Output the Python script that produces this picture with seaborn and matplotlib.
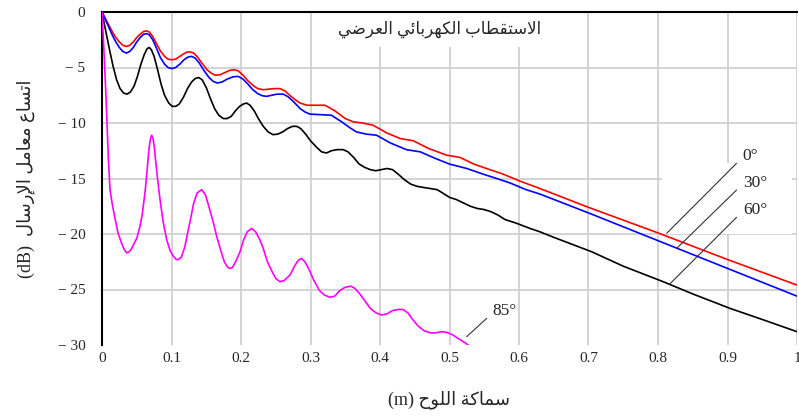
import pandas as pd
import matplotlib
matplotlib.use('Agg')
import matplotlib.pyplot as plt
import seaborn as sns
from matplotlib.patches import Rectangle

sns.set_style('white')
plt.rcParams['font.family'] = ['Liberation Serif', 'DejaVu Sans']
plt.rcParams['axes.unicode_minus'] = True

# 아랍어 글자 모양 (고립, 끝, 처음, 중간) - matplotlib 은 아랍어 연결을 하지 않음
FORMS = {
    'ا': ('\uFE8D', '\uFE8E', None, None),
    'إ': ('\uFE87', '\uFE88', None, None),
    'ب': ('\uFE8F', '\uFE90', '\uFE91', '\uFE92'),
    'ة': ('\uFE93', '\uFE94', None, None),
    'ت': ('\uFE95', '\uFE96', '\uFE97', '\uFE98'),
    'ح': ('\uFEA1', '\uFEA2', '\uFEA3', '\uFEA4'),
    'ر': ('\uFEAD', '\uFEAE', None, None),
    'س': ('\uFEB1', '\uFEB2', '\uFEB3', '\uFEB4'),
    'ض': ('\uFEBD', '\uFEBE', '\uFEBF', '\uFEC0'),
    'ط': ('\uFEC1', '\uFEC2', '\uFEC3', '\uFEC4'),
    'ع': ('\uFEC9', '\uFECA', '\uFECB', '\uFECC'),
    'ق': ('\uFED5', '\uFED6', '\uFED7', '\uFED8'),
    'ك': ('\uFED9', '\uFEDA', '\uFEDB', '\uFEDC'),
    'ل': ('\uFEDD', '\uFEDE', '\uFEDF', '\uFEE0'),
    'م': ('\uFEE1', '\uFEE2', '\uFEE3', '\uFEE4'),
    'ه': ('\uFEE9', '\uFEEA', '\uFEEB', '\uFEEC'),
    'و': ('\uFEED', '\uFEEE', None, None),
    'ي': ('\uFEF1', '\uFEF2', '\uFEF3', '\uFEF4'),
    'ئ': ('\uFE89', '\uFE8A', '\uFE8B', '\uFE8C'),
    'لا': ('\uFEFB', '\uFEFC', None, None),
    'لإ': ('\uFEF9', '\uFEFA', None, None),
}


def shape(s):
    chars = []
    i = 0
    while i < len(s):
        if s[i] == 'ل' and i + 1 < len(s) and s[i + 1] in 'اإ':
            chars.append(s[i:i + 2])
            i += 2
        else:
            chars.append(s[i])
            i += 1
    out = []
    for k, c in enumerate(chars):
        if c not in FORMS:
            out.append(c)
            continue
        iso, fin, ini, med = FORMS[c]
        prev = chars[k - 1] if k > 0 else None
        nxt = chars[k + 1] if k + 1 < len(chars) else None
        jp = prev in FORMS and FORMS[prev][2] is not None
        jn = ini is not None and nxt in FORMS
        if jp and jn:
            out.append(med)
        elif jp:
            out.append(fin)
        elif jn:
            out.append(ini)
        else:
            out.append(iso)
    return ''.join(out)


def rtl(s):
    return shape(s)[::-1]


# 곡선 데이터
x_0 = [0, 0.005, 0.01, 0.015, 0.02, 0.025, 0.03, 0.035, 0.04, 0.045, 0.05, 0.055, 0.06, 0.064,
       0.068, 0.073, 0.078, 0.084, 0.09, 0.095, 0.1, 0.106, 0.112, 0.118, 0.123, 0.127, 0.132,
       0.138, 0.145, 0.151, 0.157, 0.163, 0.17, 0.177, 0.184, 0.19, 0.196, 0.203, 0.21, 0.217,
       0.224, 0.232, 0.24, 0.248, 0.256, 0.263, 0.27, 0.278, 0.285, 0.295, 0.31, 0.321, 0.335,
       0.35, 0.362, 0.375, 0.39, 0.41, 0.429, 0.448, 0.47, 0.496, 0.515, 0.535, 0.558, 0.577,
       0.6, 0.63, 0.7, 0.8, 0.9, 1.0]
y_0 = [0, -0.6, -1.2, -1.8, -2.3, -2.7, -3.0, -3.1, -3.0, -2.7, -2.3, -2.0, -1.75, -1.7,
       -1.8, -2.2, -2.8, -3.5, -4.0, -4.25, -4.3, -4.25, -4.0, -3.75, -3.6, -3.6, -3.7,
       -4.1, -4.7, -5.2, -5.5, -5.7, -5.65, -5.45, -5.25, -5.2, -5.3, -5.7, -6.2, -6.6,
       -6.9, -7.0, -6.95, -6.9, -6.9, -7.1, -7.5, -7.9, -8.2, -8.4, -8.4, -8.4, -8.9,
       -9.6, -9.9, -10.0, -10.2, -10.9, -11.4, -11.6, -12.3, -12.9, -13.1, -13.7, -14.2, -14.6,
       -15.2, -15.9, -17.6, -19.9, -22.3, -24.6]

x_30 = [0, 0.005, 0.01, 0.015, 0.02, 0.025, 0.03, 0.035, 0.04, 0.045, 0.05, 0.055, 0.06, 0.064,
        0.068, 0.073, 0.078, 0.084, 0.09, 0.095, 0.1, 0.106, 0.112, 0.118, 0.124, 0.129, 0.134,
        0.14, 0.147, 0.154, 0.16, 0.166, 0.173, 0.18, 0.188, 0.196, 0.203, 0.21, 0.217, 0.224,
        0.231, 0.237, 0.244, 0.252, 0.261, 0.268, 0.276, 0.285, 0.292, 0.299, 0.315, 0.33,
        0.345, 0.356, 0.366, 0.38, 0.395, 0.415, 0.438, 0.458, 0.48, 0.5, 0.525, 0.548, 0.568,
        0.587, 0.61, 0.63, 0.7, 0.8, 0.9, 1.0]
y_30 = [0, -0.7, -1.4, -2.1, -2.7, -3.2, -3.55, -3.7, -3.55, -3.2, -2.7, -2.3, -2.0, -1.95,
        -2.05, -2.5, -3.2, -4.1, -4.7, -5.0, -5.1, -5.0, -4.7, -4.3, -4.05, -4.0, -4.15,
        -4.6, -5.3, -5.9, -6.25, -6.4, -6.3, -6.05, -5.85, -5.8, -6.05, -6.5, -7.0, -7.35,
        -7.55, -7.6, -7.5, -7.4, -7.4, -7.65, -8.1, -8.7, -9.0, -9.2, -9.25, -9.3,
        -9.9, -10.4, -10.8, -11.0, -11.1, -11.8, -12.4, -12.6, -13.2, -13.7, -14.1, -14.6, -15.0,
        -15.4, -16.0, -16.4, -18.1, -20.6, -23.1, -25.6]

x_60 = [0, 0.005, 0.0115, 0.016, 0.021, 0.026, 0.031, 0.036, 0.041, 0.046, 0.051, 0.056, 0.061,
        0.065, 0.068, 0.071, 0.075, 0.08, 0.085, 0.09, 0.096, 0.101, 0.106, 0.111, 0.117, 0.123,
        0.129, 0.134, 0.139, 0.144, 0.15, 0.156, 0.162, 0.168, 0.1745, 0.18, 0.186, 0.192, 0.198,
        0.203, 0.208, 0.213, 0.219, 0.225, 0.232, 0.239, 0.246, 0.253, 0.26, 0.267, 0.274, 0.28,
        0.286, 0.293, 0.3, 0.309, 0.316, 0.323, 0.33, 0.338, 0.347, 0.354, 0.362, 0.37, 0.378,
        0.386, 0.394, 0.402, 0.41, 0.418, 0.426, 0.435, 0.444, 0.453, 0.462, 0.472, 0.482, 0.49,
        0.5, 0.51, 0.52, 0.53, 0.54, 0.55, 0.56, 0.57, 0.58, 0.595, 0.616, 0.63, 0.65, 0.7046,
        0.75, 0.8076, 0.85, 0.9036, 0.95, 1.0]
y_60 = [0, -1.6, -3.6, -4.9, -6.1, -6.9, -7.3, -7.4, -7.2, -6.7, -5.8, -4.7, -3.8,
        -3.3, -3.2, -3.4, -4.0, -5.2, -6.5, -7.5, -8.2, -8.5, -8.5, -8.3, -7.7, -6.9,
        -6.3, -6.0, -5.9, -6.1, -6.8, -7.8, -8.7, -9.3, -9.6, -9.6, -9.4, -8.9, -8.5,
        -8.3, -8.2, -8.4, -8.9, -9.6, -10.3, -10.8, -11.05, -11.0, -10.8, -10.5, -10.3, -10.3,
        -10.5, -11.0, -11.6, -12.2, -12.6, -12.7, -12.5, -12.4, -12.4, -12.6, -13.1, -13.7, -14.0,
        -14.2, -14.3, -14.2, -14.1, -14.2, -14.6, -15.1, -15.5, -15.7, -15.8, -15.9, -16.0, -16.3,
        -16.7, -16.9, -17.2, -17.5, -17.7, -17.8, -18.0, -18.3, -18.7, -19.0, -19.5, -19.8, -20.3, -21.6,
        -22.9, -24.3, -25.4, -26.7, -27.7, -28.8]

x_85 = [0, 0.002, 0.006, 0.009, 0.0115, 0.015, 0.0187, 0.023, 0.028, 0.032, 0.0355, 0.039, 0.042,
        0.045, 0.05, 0.0547, 0.058, 0.062, 0.065, 0.0675, 0.0695, 0.0715, 0.0735, 0.0755, 0.078,
        0.081, 0.0835, 0.088, 0.093, 0.098, 0.1026, 0.107, 0.11, 0.114, 0.119, 0.1266, 0.132,
        0.137, 0.1435, 0.149, 0.155, 0.16, 0.165, 0.17, 0.176, 0.181, 0.184, 0.188, 0.193,
        0.1986, 0.204, 0.209, 0.2154, 0.221, 0.227, 0.232, 0.238, 0.244, 0.25, 0.256, 0.262,
        0.2705, 0.277, 0.282, 0.287, 0.292, 0.298, 0.305, 0.313, 0.32, 0.328, 0.335, 0.342,
        0.35, 0.358, 0.364, 0.371, 0.378, 0.386, 0.394, 0.402, 0.41, 0.418, 0.426, 0.433,
        0.44, 0.447, 0.455, 0.463, 0.472, 0.48, 0.49, 0.498, 0.505, 0.512, 0.52, 0.527]
y_85 = [0, -2.4, -8.0, -13.0, -16.0, -17.4, -18.6, -19.9, -20.8, -21.4, -21.7, -21.6, -21.4,
        -21.0, -20.4, -19.3, -18.2, -16.2, -14.2, -12.4, -11.5, -11.1, -11.4, -12.3, -13.9,
        -15.6, -16.9, -18.9, -20.5, -21.5, -22.0, -22.3, -22.3, -22.1, -21.2, -18.9, -17.2,
        -16.3, -16.0, -16.5, -17.8, -18.9, -20.2, -21.3, -22.5, -23.0, -23.1, -23.0, -22.4,
        -21.6, -20.5, -19.8, -19.5, -19.8, -20.5, -21.3, -22.5, -23.3, -24.0, -24.3, -24.2,
        -23.7, -22.9, -22.4, -22.2, -22.5, -23.2, -24.2, -25.1, -25.5, -25.7, -25.6, -25.1,
        -24.8, -24.7, -24.9, -25.4, -26.0, -26.7, -27.1, -27.3, -27.2, -26.9, -26.8, -26.8,
        -27.1, -27.7, -28.3, -28.7, -28.9, -28.9, -28.8, -28.9, -29.1, -29.4, -29.7, -30.0]

angles = ['0°', '30°', '60°', '85°']
colors = ['#ff0000', '#0000ff', '#000000', '#ff00ff']

df = pd.concat([
    pd.DataFrame({'x': x_0, 'y': y_0, 'angle': '0°'}),
    pd.DataFrame({'x': x_30, 'y': y_30, 'angle': '30°'}),
    pd.DataFrame({'x': x_60, 'y': y_60, 'angle': '60°'}),
    pd.DataFrame({'x': x_85, 'y': y_85, 'angle': '85°'}),
], ignore_index=True)

fig = plt.figure(figsize=(7.99, 4.16), dpi=100)
ax = fig.add_axes([102 / 799, 1 - 345 / 416, 695 / 799, 333 / 416])

ax.add_patch(Rectangle((0.806, -20.0), 0.187, 6.4, facecolor='white', edgecolor='none', zorder=1))
sns.lineplot(data=df, x='x', y='y', hue='angle', palette=dict(zip(angles, colors)),
             estimator=None, sort=False, legend=False, linewidth=1.2, ax=ax, zorder=3)

ax.set_xlim(0, 1)
ax.set_ylim(-30, 0)
ax.set_xticks([0, 0.1, 0.2, 0.3, 0.4, 0.5, 0.6, 0.7, 0.8, 0.9, 1.0])
ax.set_xticklabels(['0', '0.1', '0.2', '0.3', '0.4', '0.5', '0.6', '0.7', '0.8', '0.9', '1'])
ax.set_yticks([-30, -25, -20, -15, -10, -5, 0])
ax.set_yticklabels(['\u2212 30', '\u2212 25', '\u2212 20', '\u2212 15', '\u2212 10', '\u2212 5', '0'])
ax.tick_params(axis='both', length=0, labelsize=11)
ax.tick_params(axis='y', pad=12)
ax.tick_params(axis='x', pad=5)
ax.set_axisbelow(True)
ax.grid(True, color='#d0d0d0', linewidth=1.3)
ax.get_ygridlines()[0].set_visible(False)
for s in ['right', 'bottom']:
    ax.spines[s].set_visible(False)
for s in ['left', 'top']:
    ax.spines[s].set_color('black')
    ax.spines[s].set_linewidth(1.5)

ax.set_xlabel('(m) ' + rtl('سماكة اللوح'), fontsize=13)
ax.set_ylabel('(dB)  ' + rtl('اتساع معامل الإرسال'), fontsize=13)
ax.yaxis.set_label_coords(-0.097, 0.5)
ax.xaxis.set_label_coords(0.5, -0.135)

ax.text(0.486, -1.6, rtl('الاستقطاب الكهربائي العرضي'), ha='center', va='center', fontsize=12,
        bbox=dict(facecolor='white', edgecolor='none', pad=6), zorder=2)

# 각도 라벨과 지시선
ax.plot([0.8125, 0.913], [-19.94, -13.63], color='#333333', linewidth=0.8, zorder=4)
ax.plot([0.827, 0.913], [-21.29, -16.04], color='#333333', linewidth=0.8, zorder=4)
ax.plot([0.817, 0.913], [-24.5, -18.5], color='#333333', linewidth=0.8, zorder=4)
ax.plot([0.5247, 0.5535], [-29.25, -27.6], color='#333333', linewidth=0.8, zorder=4)
ax.text(0.922, -13.0, '0°', fontsize=12.5, va='center', ha='left')
ax.text(0.922, -15.4, '30°', fontsize=12.5, va='center', ha='left')
ax.text(0.922, -17.8, '60°', fontsize=12.5, va='center', ha='left')
ax.text(0.561, -26.9, '85°', fontsize=12.5, va='center', ha='left')

fig.savefig('out.png', dpi=100)
